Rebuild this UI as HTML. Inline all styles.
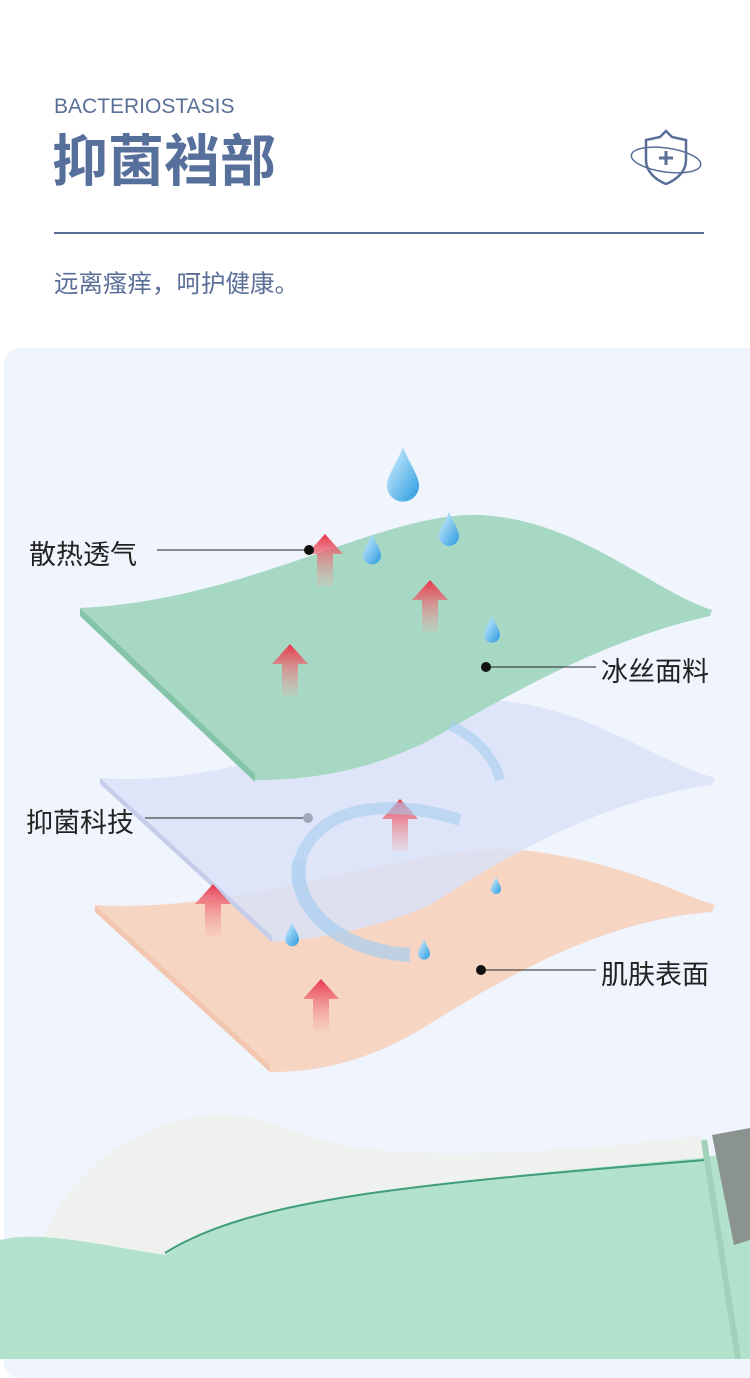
<!DOCTYPE html>
<html><head><meta charset="utf-8"><style>
html,body{margin:0;padding:0;background:#fff;}
body{width:750px;height:1359px;position:relative;overflow:hidden;font-family:"Liberation Sans","Noto Sans CJK SC",sans-serif;}
.en{position:absolute;left:54px;top:95px;font-size:21px;color:#5a6f98;letter-spacing:0px;}
.title{position:absolute;left:52px;top:130px;font-size:56px;font-weight:bold;color:#566f9b;font-family:"Noto Sans CJK SC",sans-serif;line-height:1;}
.line{position:absolute;left:54px;top:232px;width:650px;height:2px;background:#5a6f98;}
.sub{position:absolute;left:54px;top:265px;font-size:24.5px;color:#5a6f98;font-family:"Noto Sans CJK SC",sans-serif;}
.panel{position:absolute;left:4px;top:348px;width:760px;height:1030px;background:#eff4fd;border-radius:16px;}
.lbl{position:absolute;font-size:27px;color:#222;font-family:"Noto Sans CJK SC",sans-serif;}
</style></head><body>
<div class="en">BACTERIOSTASIS</div>
<div class="title">抑菌裆部</div>
<svg style="position:absolute;left:628px;top:128px" width="78" height="60" viewBox="0 0 78 60">
<path d="M38 3 L32 9 L18 12 L18 32 C18 44 28 52 38 56 C48 52 58 44 58 32 L58 12 L44 9 Z" fill="none" stroke="#5a6f98" stroke-width="2.5"/>
<ellipse cx="38" cy="32" rx="35" ry="12" fill="none" stroke="#5a6f98" stroke-width="1.5" transform="rotate(8 38 32)"/>
<path d="M38 23 V37 M31 30 H45" stroke="#5a6f98" stroke-width="3"/>
</svg>
<div class="line"></div>
<div class="sub">远离瘙痒，呵护健康。</div>
<div class="panel"></div>
<svg style="position:absolute;left:0;top:0" width="750" height="1359">
<defs>
<linearGradient id="ar" x1="0" y1="0" x2="0" y2="1"><stop offset="0" stop-color="#e8374a"/><stop offset="1" stop-color="#f3a8a8" stop-opacity="0.2"/></linearGradient>
<linearGradient id="dr" x1="0" y1="0" x2="1" y2="1"><stop offset="0" stop-color="#d8f2ff"/><stop offset="1" stop-color="#2a9ae0"/></linearGradient>
<g id="arrow"><path d="M0 -16 L18 4 L8 4 L8 36 L-8 36 L-8 4 L-18 4 Z" fill="url(#ar)"/></g>
<g id="drop"><path d="M0 -18 C4 -8 10 0 10 6 C10 12 5 16 0 16 C-5 16 -10 12 -10 6 C-10 0 -4 -8 0 -18 Z" fill="url(#dr)"/></g>
</defs>
<path d="M95 905 C250 915 420 840 520 850 C620 860 680 895 715 905 L712 912 C600 920 500 980 420 1030 C360 1065 310 1072 270 1072 Z" fill="#f7d5c3"/>
<path d="M95 905 L270 1065 L270 1072 L95 912 Z" fill="#f3c6b0"/>
<path d="M100 778 C250 790 400 700 480 700 C580 700 650 760 715 778 L712 785 C600 800 500 860 430 905 C360 935 300 940 272 942 Z" fill="#dbe2f7" opacity="0.85"/>
<path d="M100 778 L272 936 L272 942 L100 784 Z" fill="#c4cdea"/>
<path d="M80 608 C250 600 380 512 480 515 C580 520 650 590 712 610 L710 616 C600 640 500 700 430 740 C360 775 300 780 255 780 Z" fill="#a6d8c3"/>
<path d="M80 608 L255 774 L255 782 L80 616 Z" fill="#86c4aa"/>
<use href="#arrow" x="325" y="550"/><use href="#arrow" x="430" y="596"/><use href="#arrow" x="290" y="660"/>
<use href="#arrow" x="400" y="815"/><use href="#arrow" x="213" y="900"/><use href="#arrow" x="321" y="995"/>
<path d="M410 955 C330 950 290 900 300 860" fill="none" stroke="#a6cdf0" stroke-width="14" opacity="0.7"/>
<path d="M300 860 C320 800 400 800 460 820" fill="none" stroke="#a6cdf0" stroke-width="12" opacity="0.6"/>
<path d="M450 725 C480 740 495 760 500 780" fill="none" stroke="#a6cdf0" stroke-width="10" opacity="0.6"/>
<use href="#drop" transform="translate(403 476) scale(1.6)"/>
<use href="#drop" x="449" y="530"/><use href="#drop" transform="translate(372 550) scale(0.9)"/>
<use href="#drop" transform="translate(492 630) scale(0.8)"/><use href="#drop" transform="translate(292 935) scale(0.7)"/>
<use href="#drop" transform="translate(424 950) scale(0.6)"/><use href="#drop" transform="translate(496 886) scale(0.5)"/>
<line x1="157" y1="550" x2="308" y2="550" stroke="#222" stroke-width="1"/><circle cx="309" cy="550" r="5" fill="#111"/>
<line x1="488" y1="667" x2="596" y2="667" stroke="#222" stroke-width="1"/><circle cx="486" cy="667" r="5" fill="#111"/>
<line x1="145" y1="818" x2="306" y2="818" stroke="#222" stroke-width="1"/><circle cx="308" cy="818" r="5" fill="#a0a8bb"/>
<line x1="482" y1="970" x2="596" y2="970" stroke="#222" stroke-width="1"/><circle cx="481" cy="970" r="5" fill="#111"/>
<path d="M40 1245 C70 1170 130 1125 210 1115 C260 1110 300 1140 360 1148 C450 1160 600 1150 700 1135 L715 1200 L160 1255 Z" fill="#eef1ee"/>
<path d="M0 1240 C40 1230 100 1245 165 1255 C250 1200 400 1185 700 1158 L750 1150 L750 1359 L0 1359 Z" fill="#b2e1cc"/>
<path d="M165 1253 C250 1200 400 1185 705 1160" fill="none" stroke="#3f9e7d" stroke-width="2"/>
<path d="M712 1135 L750 1128 L750 1240 L734 1245 Z" fill="#8a938f"/>
<path d="M704 1140 L738 1359" stroke="#9fd1bb" stroke-width="6"/>
</svg>
<div class="lbl" style="left:29px;top:533px">散热透气</div>
<div class="lbl" style="left:601px;top:650px">冰丝面料</div>
<div class="lbl" style="left:26px;top:801px">抑菌科技</div>
<div class="lbl" style="left:601px;top:953px">肌肤表面</div>
</body></html>
